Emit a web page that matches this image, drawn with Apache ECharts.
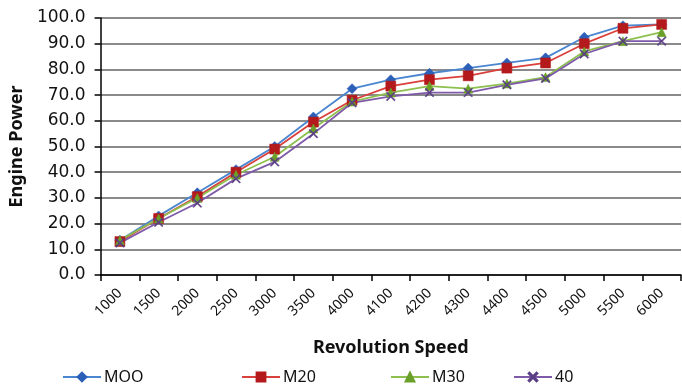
<!DOCTYPE html>
<html>
<head>
<meta charset="utf-8">
<script src="https://cdn.jsdelivr.net/npm/echarts@6/dist/echarts.min.js"></script>
<style>
  html, body { margin: 0; padding: 0; background: #fff; }
  #chart { width: 682px; height: 388px; }
</style>
</head>
<body>
<div id="chart"></div>
<script>
// Revolution speed categories (x axis)
const speeds = ['1000', '1500', '2000', '2500', '3000', '3500', '4000', '4100', '4200', '4300', '4400', '4500', '5000', '5500', '6000'];

// Engine power for each fuel blend
const moo = [13.5, 23.0, 32.0, 41.0, 50.0, 61.5, 72.5, 76.0, 78.5, 80.5, 82.5, 84.5, 92.5, 97.0, 97.5];
const m20 = [13.0, 22.0, 30.5, 40.0, 49.0, 59.5, 68.0, 73.5, 76.0, 77.5, 80.5, 82.5, 90.0, 96.0, 97.5];
const m30 = [13.5, 22.0, 30.0, 39.0, 46.0, 57.0, 67.5, 71.0, 73.5, 72.5, 74.5, 77.0, 87.0, 91.0, 94.5];
const b40 = [12.5, 20.5, 28.0, 37.5, 44.0, 55.0, 67.0, 69.5, 71.0, 71.0, 74.0, 76.5, 86.0, 91.0, 91.0];

// Y axis ticks
const yMin = 0, yMax = 100, yStep = 10;

const crossPath = 'path://M0,1L1,0L5,4L9,0L10,1L6,5L10,9L9,10L5,6L1,10L0,9L4,5Z';

const seriesDefs = [
  { name: 'MOO', data: moo, line: '#4a86d0', mark: '#2c5fb8', symbol: 'diamond', size: 10 },
  { name: 'M20', data: m20, line: '#d9403b', mark: '#b4191b', symbol: 'rect', size: 10 },
  { name: 'M30', data: m30, line: '#8dc04e', mark: '#6aa02a', symbol: 'triangle', size: 9 },
  { name: '40', data: b40, line: '#7f5aa8', mark: '#5b3f85', symbol: crossPath, size: 9 }
];

const legendLefts = [62, 241, 390, 513];

const chart = echarts.init(document.getElementById('chart'), null, { renderer: 'canvas' });

chart.setOption({
  animation: false,
  backgroundColor: '#ffffff',
  grid: { left: 96, right: 1, top: 18, bottom: 113, containLabel: false },
  legend: seriesDefs.map((s, i) => ({
    data: [s.name],
    left: legendLefts[i],
    top: 369,
    padding: 0,
    itemWidth: 38,
    itemHeight: 11,
    itemGap: 2,
    textStyle: { fontFamily: 'Noto Sans', fontSize: 16, color: '#111', padding: [0, 0, 0, -2] }
  })),
  xAxis: {
    type: 'category',
    data: speeds,
    boundaryGap: true,
    name: 'Revolution Speed',
    nameLocation: 'middle',
    nameGap: 64,
    nameTextStyle: { fontFamily: 'Noto Sans', fontSize: 18, fontWeight: 'bold', color: '#111' },
    axisLine: { lineStyle: { color: '#000', width: 1.5 } },
    axisTick: { show: true, alignWithLabel: false, length: 6, lineStyle: { color: '#000', width: 1.5 } },
    axisLabel: {
      rotate: 45,
      interval: 0,
      margin: 16,
      fontFamily: 'Noto Sans',
      fontSize: 14,
      color: '#111'
    },
    splitLine: { show: false }
  },
  yAxis: {
    type: 'value',
    min: yMin,
    max: yMax,
    interval: yStep,
    name: 'Engine Power',
    nameLocation: 'middle',
    nameGap: 72,
    nameTextStyle: { fontFamily: 'Noto Sans', fontSize: 18, fontWeight: 'bold', color: '#111' },
    axisLine: { show: true, lineStyle: { color: '#000', width: 1.5 } },
    axisTick: { show: true, length: 6, lineStyle: { color: '#000', width: 1.5 } },
    axisLabel: {
      margin: 15,
      fontFamily: 'DejaVu Sans',
      fontSize: 17,
      color: '#111',
      formatter: v => v.toFixed(1)
    },
    splitLine: { show: true, lineStyle: { color: '#8a8a8a', width: 1.8 } }
  },
  series: seriesDefs.map(s => ({
    name: s.name,
    type: 'line',
    data: s.data,
    symbol: s.symbol,
    symbolSize: s.size,
    showAllSymbol: true,
    lineStyle: { color: s.line, width: 1.8 },
    itemStyle: { color: s.mark, borderColor: s.mark, borderWidth: 0.5 }
  }))
});
</script>
</body>
</html>
